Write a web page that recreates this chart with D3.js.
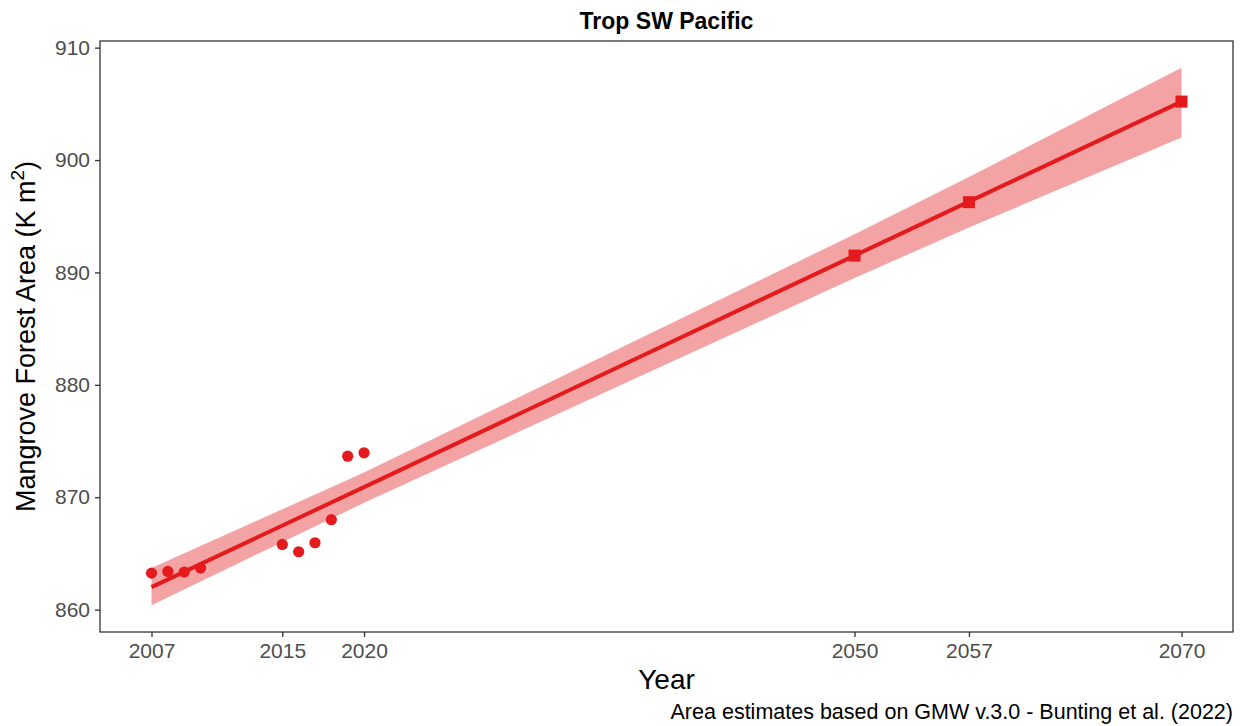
<!DOCTYPE html>
<html>
<head>
<meta charset="utf-8">
<script src="https://cdn.jsdelivr.net/npm/d3@7"></script>
<style>
  body { margin: 0; background: #fff; }
  text { font-family: "Liberation Sans", Arial, sans-serif; }
</style>
</head>
<body>
<div id="chart"></div>
<script>
// observed area (circles)
var obsYears = [2007, 2008, 2009, 2010, 2015, 2016, 2017, 2018, 2019, 2020];
var obsArea  = [863.25, 863.4, 863.35, 863.7, 865.8, 865.15, 865.95, 868.0, 873.65, 873.95];

// projected area (squares)
var projYears = [2050, 2057, 2070];
var projArea  = [891.5, 896.25, 905.2];

// fitted trend + confidence band
var fitYears = [2007, 2020, 2050, 2057, 2070];
var fitArea  = [862.0, 870.9, 891.5, 896.3, 905.2];
var bandLow  = [860.4, 869.5, 889.5, 894.0, 902.0];
var bandHigh = [863.7, 872.2, 893.4, 898.5, 908.2];

var xTicks = [2007, 2015, 2020, 2050, 2057, 2070];
var yTicks = [860, 870, 880, 890, 900, 910];

var red = "#E41A1C";

var W = 1240, H = 726;
var panel = {left: 100, right: 1233, top: 41, bottom: 632};

var svg = d3.select("#chart").append("svg")
  .attr("width", W)
  .attr("height", H);

// ggplot-like 5% expansion on both axes
var xr = [2007, 2070], xpad = (xr[1] - xr[0]) * 0.05;
var x = d3.scaleLinear()
  .domain([xr[0] - xpad, xr[1] + xpad])
  .range([panel.left, panel.right]);

var yr = [d3.min(bandLow), d3.max(bandHigh)], ypad = (yr[1] - yr[0]) * 0.05;
var y = d3.scaleLinear()
  .domain([yr[0] - ypad, yr[1] + ypad])
  .range([panel.bottom, panel.top]);

var fit = fitYears.map(function(d, i) {
  return {year: d, v: fitArea[i], lo: bandLow[i], hi: bandHigh[i]};
});

// ribbon
svg.append("path")
  .datum(fit)
  .attr("fill", red)
  .attr("fill-opacity", 0.4)
  .attr("d", d3.area()
    .x(function(d) { return x(d.year); })
    .y0(function(d) { return y(d.lo); })
    .y1(function(d) { return y(d.hi); }));

// trend line
svg.append("path")
  .datum(fit)
  .attr("fill", "none")
  .attr("stroke", red)
  .attr("stroke-width", 4)
  .attr("d", d3.line()
    .x(function(d) { return x(d.year); })
    .y(function(d) { return y(d.v); }));

// observed points
svg.append("g").selectAll("circle")
  .data(obsYears)
  .enter().append("circle")
    .attr("cx", function(d) { return x(d); })
    .attr("cy", function(d, i) { return y(obsArea[i]); })
    .attr("r", 5.6)
    .attr("fill", red);

// projected squares
var sq = 12;
svg.append("g").selectAll("rect")
  .data(projYears)
  .enter().append("rect")
    .attr("x", function(d) { return x(d) - sq / 2; })
    .attr("y", function(d, i) { return y(projArea[i]) - sq / 2; })
    .attr("width", sq)
    .attr("height", sq)
    .attr("fill", red);

// panel border
svg.append("rect")
  .attr("x", panel.left)
  .attr("y", panel.top)
  .attr("width", panel.right - panel.left)
  .attr("height", panel.bottom - panel.top)
  .attr("fill", "none")
  .attr("stroke", "#333")
  .attr("stroke-width", 1.3);

// axes
var xAxis = svg.append("g")
  .attr("transform", "translate(0," + panel.bottom + ")")
  .call(d3.axisBottom(x).tickValues(xTicks).tickFormat(d3.format("d")).tickSize(5).tickPadding(6));

var yAxis = svg.append("g")
  .attr("transform", "translate(" + panel.left + ",0)")
  .call(d3.axisLeft(y).tickValues(yTicks).tickSize(5).tickPadding(5));

[xAxis, yAxis].forEach(function(a) {
  a.select(".domain").remove();
  a.selectAll(".tick line").attr("stroke", "#333").attr("stroke-width", 1.3);
  a.selectAll(".tick text")
    .attr("fill", "#4d4d4d")
    .style("font-size", "21px")
    .style("font-family", "Liberation Sans, Arial, sans-serif");
});

// titles
svg.append("text")
  .attr("x", (panel.left + panel.right) / 2)
  .attr("y", 29)
  .attr("text-anchor", "middle")
  .style("font-size", "23px")
  .style("font-weight", "bold")
  .attr("fill", "#000")
  .text("Trop SW Pacific");

svg.append("text")
  .attr("x", (panel.left + panel.right) / 2)
  .attr("y", 689)
  .attr("text-anchor", "middle")
  .style("font-size", "28px")
  .attr("fill", "#000")
  .text("Year");

var yt = svg.append("text")
  .attr("transform", "translate(35," + (panel.top + panel.bottom) / 2 + ") rotate(-90)")
  .attr("text-anchor", "middle")
  .style("font-size", "27px")
  .attr("fill", "#000");
yt.append("tspan").text("Mangrove Forest Area (K m");
yt.append("tspan").attr("dy", -11).style("font-size", "19px").text("2");
yt.append("tspan").attr("dy", 11).text(")");

svg.append("text")
  .attr("x", panel.right)
  .attr("y", 719)
  .attr("text-anchor", "end")
  .style("font-size", "21.5px")
  .attr("fill", "#000")
  .text("Area estimates based on GMW v.3.0 - Bunting et al. (2022)");
</script>
</body>
</html>
